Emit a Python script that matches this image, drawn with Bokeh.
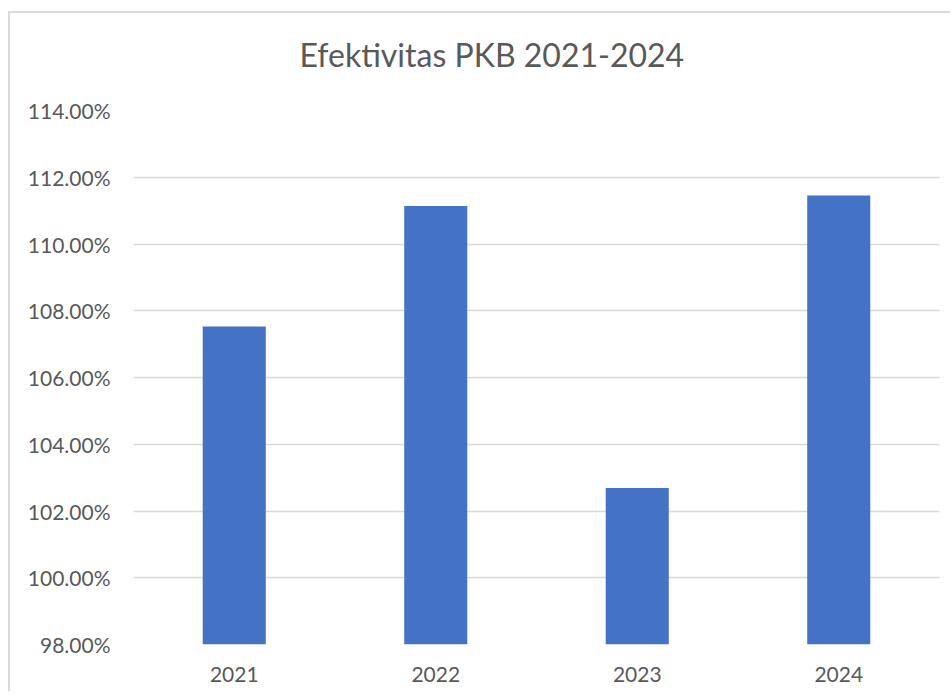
from bokeh.plotting import figure
from bokeh.models import FixedTicker, NumeralTickFormatter, Title, Range1d
from bokeh.embed import file_html
from bokeh.resources import INLINE

# Data
years = ["2021", "2022", "2023", "2024"]
efektivitas = [1.0753, 1.1114, 1.0269, 1.1145]
y_ticks = [0.98, 1.00, 1.02, 1.04, 1.06, 1.08, 1.10, 1.12, 1.14]
title_text = "Efektivitas PKB 2021-2024"

TEXT = "#595959"
GRID = "#d9d9d9"
BAR = "#4472c4"
FONT = "Lato"

p = figure(
    x_range=years,
    y_range=Range1d(0.98, 1.14),
    width=942, height=680,
    output_backend="svg", toolbar_location=None,
    min_border_left=123, min_border_right=13,
    min_border_top=0, min_border_bottom=49,
)
p.styles = {"border-left": "2px solid #d9d9d9", "border-top": "2px solid #d9d9d9",
            "margin-top": "11px", "margin-left": "8px"}

p.vbar(x=years, top=efektivitas, bottom=0.98, width=0.313, color=BAR, line_color=None)

p.outline_line_color = None
p.background_fill_color = "white"
p.border_fill_color = "white"

p.xgrid.grid_line_color = None
p.ygrid.grid_line_color = GRID
p.ygrid.grid_line_width = 1.5
p.ygrid.ticker = FixedTicker(ticks=y_ticks)

p.yaxis.ticker = FixedTicker(ticks=y_ticks)
p.yaxis.formatter = NumeralTickFormatter(format="0.00%")
for ax in (p.xaxis[0], p.yaxis[0]):
    ax.axis_line_color = None
    ax.major_tick_line_color = None
    ax.minor_tick_line_color = None
    ax.major_label_text_font = FONT
    ax.major_label_text_font_size = "21px"
    ax.major_label_text_color = TEXT
p.yaxis.major_label_standoff = 17
p.xaxis.major_label_standoff = 16

# title
p.title.text = title_text
p.title.align = "left"
p.title.offset = 166
p.title.text_font = FONT
p.title.text_font_size = "32px"
p.title.text_font_style = "normal"
p.title.text_color = TEXT
p.title.standoff = 38

spacer = Title(text=" ", text_font_size="10px", standoff=5, text_color="white")
p.add_layout(spacer, "above")

open("out.html", "w").write(file_html(p, INLINE))
